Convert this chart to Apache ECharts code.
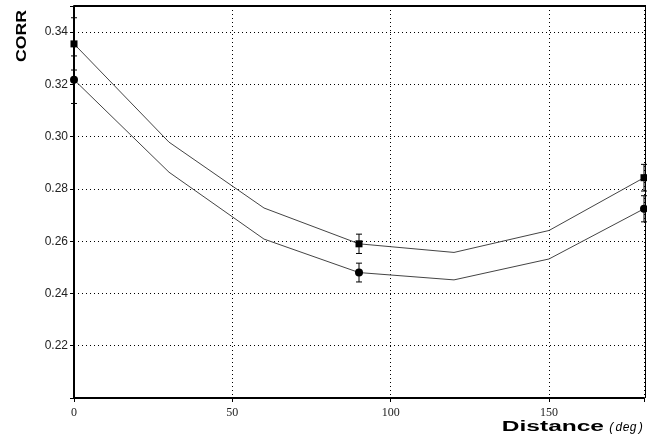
<!DOCTYPE html>
<html><head><meta charset="utf-8">
<script src="https://cdn.jsdelivr.net/npm/echarts@6/dist/echarts.min.js"></script>
<style>html,body{margin:0;padding:0;background:#fff}#c{width:647px;height:440px}</style>
</head><body><div id="c"></div>
<script>
var distances = [0, 30, 60, 90, 120, 150, 180];
var upperCorr = [0.3355, 0.2979, 0.2727, 0.2590, 0.2557, 0.2641, 0.2843];
var lowerCorr = [0.3218, 0.2864, 0.2608, 0.2480, 0.2452, 0.2532, 0.2724];
var upperErr = [0.0100, null, null, 0.0037, null, null, 0.0051];
var lowerErr = [0.0091, null, null, 0.0036, null, null, 0.0050];
var xTicks = [0, 50, 100, 150];
var yTicks = [0.22, 0.24, 0.26, 0.28, 0.30, 0.32, 0.34];

function lineData(vals, errs, sym) {
  return distances.map(function (d, i) {
    return { value: [d, vals[i]], symbol: errs[i] != null ? sym : 'none' };
  });
}
function errData(vals, errs) {
  var out = [];
  distances.forEach(function (d, i) {
    if (errs[i] != null) out.push([d, vals[i] - errs[i], vals[i] + errs[i]]);
  });
  return out;
}
function renderErr(params, api) {
  var x = api.value(0);
  var lo = api.coord([x, api.value(1)]);
  var hi = api.coord([x, api.value(2)]);
  var w = 3;
  var st = { stroke: '#000', lineWidth: 1 };
  return { type: 'group', children: [
    { type: 'line', shape: { x1: lo[0], y1: lo[1], x2: hi[0], y2: hi[1] }, style: st },
    { type: 'line', shape: { x1: lo[0] - w, y1: lo[1], x2: lo[0] + w, y2: lo[1] }, style: st },
    { type: 'line', shape: { x1: hi[0] - w, y1: hi[1], x2: hi[0] + w, y2: hi[1] }, style: st }
  ]};
}

var chart = echarts.init(document.getElementById('c'), null, { renderer: 'canvas' });
var GL = 74, GT = 6, GR = 1, GB = 42;
chart.setOption({
  animation: false,
  backgroundColor: '#fff',
  grid: { left: GL, right: GR, top: GT, bottom: GB },
  xAxis: {
    type: 'value', min: 0, max: 180, interval: 50,
    axisLine: { show: true, lineStyle: { color: '#000', width: 2 } },
    axisTick: { show: true, length: 4, lineStyle: { color: '#000' } },
    axisLabel: {
      margin: 9, color: '#222', fontFamily: 'Liberation Serif', fontSize: 12,
      formatter: function (v) { return xTicks.indexOf(v) >= 0 ? String(v) : ''; }
    },
    splitLine: { show: true, lineStyle: { color: '#000', type: [1, 3], width: 1 } }
  },
  yAxis: {
    type: 'value', min: 0.20, max: 0.35, interval: 0.02,
    axisLine: { show: true, lineStyle: { color: '#000', width: 2 } },
    axisTick: { show: true, length: 4, lineStyle: { color: '#000' } },
    axisLabel: {
      margin: 6, color: '#222', fontFamily: 'Liberation Sans', fontSize: 12,
      formatter: function (v) {
        for (var i = 0; i < yTicks.length; i++) if (Math.abs(yTicks[i] - v) < 1e-6) return yTicks[i].toFixed(2);
        return '';
      }
    },
    splitLine: { show: true, lineStyle: { color: '#000', type: [1, 3], width: 1 } }
  },
  series: [
    { type: 'line', data: lineData(upperCorr, upperErr, 'rect'), symbolSize: 7, showSymbol: true,
      clip: false, lineStyle: { color: '#444', width: 1 }, itemStyle: { color: '#000' }, z: 3 },
    { type: 'line', data: lineData(lowerCorr, lowerErr, 'circle'), symbolSize: 8, showSymbol: true,
      clip: false, lineStyle: { color: '#444', width: 1 }, itemStyle: { color: '#000' }, z: 3 },
    { type: 'custom', data: errData(upperCorr, upperErr), renderItem: renderErr, clip: false, z: 4 },
    { type: 'custom', data: errData(lowerCorr, lowerErr), renderItem: renderErr, clip: false, z: 4 }
  ],
  graphic: [
    { type: 'line', shape: { x1: GL, y1: GT, x2: 647 - GR, y2: GT }, style: { stroke: '#000', lineWidth: 2 }, z: 100 },
    { type: 'line', shape: { x1: 647 - GR - 0.5, y1: GT, x2: 647 - GR - 0.5, y2: 440 - GB }, style: { stroke: '#000', lineWidth: 1 }, z: 100 },
    { type: 'text', x: 22, y: 36, rotation: Math.PI / 2, scaleX: 1.18, originX: 0, originY: 0, z: 100,
      style: { text: 'CORR', font: 'bold 15px "Liberation Sans"', fill: '#000', align: 'center', verticalAlign: 'middle' } },
    { type: 'text', x: 604, y: 434, scaleX: 1.75, originX: 0, originY: 0, z: 100,
      style: { text: 'Distance', font: 'bold 14px "Liberation Sans"', fill: '#000', align: 'right', verticalAlign: 'bottom' } },
    { type: 'text', x: 608, y: 434, z: 100,
      style: { text: '(deg)', font: 'italic 12px "Liberation Mono"', fill: '#000', align: 'left', verticalAlign: 'bottom' } }
  ]
});
</script></body></html>
